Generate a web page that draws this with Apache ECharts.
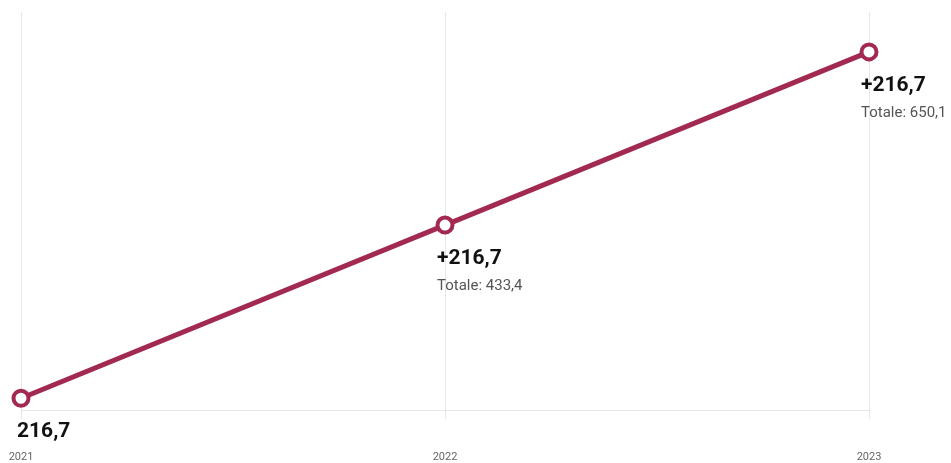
<!DOCTYPE html>
<html>
<head>
<meta charset="utf-8">
<script src="https://cdn.jsdelivr.net/npm/echarts@6/dist/echarts.min.js"></script>
<style>
  html, body { margin: 0; padding: 0; background: #fff; }
  #chart { width: 951px; height: 463px; }
</style>
</head>
<body>
<div id="chart"></div>
<script>
// anni, incrementi annuali e totali cumulati
const years = ['2021', '2022', '2023'];
const increments = [216.7, 216.7, 216.7];
const totals = [216.7, 433.4, 650.1];

const fmt = v => v.toFixed(1).replace('.', ',');
const lineColor = '#a22a51';
const fontFamily = '"Liberation Sans Narrow", Roboto, sans-serif';

const chart = echarts.init(document.getElementById('chart'));

const option = {
  animation: false,
  grid: { left: 21, right: 82, top: 12, bottom: 53 },
  xAxis: {
    type: 'category',
    data: years,
    boundaryGap: false,
    axisLine: { lineStyle: { color: '#e6e6e6', width: 1 } },
    axisTick: { show: true, length: 9, lineStyle: { color: '#e6e6e6' } },
    axisLabel: { margin: 42, color: '#666', fontSize: 11, fontFamily: fontFamily },
    splitLine: { show: true, lineStyle: { color: '#e6e6e6', width: 1 } }
  },
  yAxis: {
    type: 'value',
    min: 202,
    max: 700,
    show: false
  },
  series: [{
    type: 'line',
    data: totals.map((v, i) => ({
      value: v,
      label: { offset: [i === 0 ? -4 : -8, 0] }
    })),
    lineStyle: { color: lineColor, width: 5 },
    itemStyle: { color: '#fff', borderColor: lineColor, borderWidth: 4 },
    symbol: 'circle',
    symbolSize: 15,
    label: {
      show: true,
      position: 'bottom',
      distance: 10,
      align: 'left',
      formatter: p => {
        const i = p.dataIndex;
        if (i === 0) return '{a|' + fmt(totals[0]) + '}';
        return '{a|+' + fmt(increments[i]) + '}\n{b|Totale: ' + fmt(totals[i]) + '}';
      },
      rich: {
        a: { fontSize: 21, fontWeight: 'bold', color: '#111', fontFamily: fontFamily, lineHeight: 28 },
        b: { fontSize: 15, color: '#555', fontFamily: fontFamily, lineHeight: 28 }
      }
    }
  }]
};

chart.setOption(option);
</script>
</body>
</html>
